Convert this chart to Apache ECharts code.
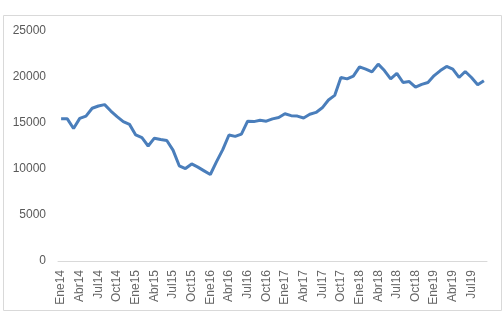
<!DOCTYPE html>
<html>
<head>
<meta charset="utf-8">
<script src="https://cdn.jsdelivr.net/npm/echarts@6/dist/echarts.min.js"></script>
<style>
  html, body { margin: 0; padding: 0; background: #fff; }
  #chart { width: 503px; height: 312px; }
</style>
</head>
<body>
<div id="chart"></div>
<script>
// month names as shown on the axis
var months = ['Ene', 'Feb', 'Mar', 'Abr', 'May', 'Jun', 'Jul', 'Ago', 'Sep', 'Oct', 'Nov', 'Dic'];
var years = ['14', '15', '16', '17', '18', '19'];
var monthCount = 69; // Ene14 .. Sep19

var categories = [];
for (var i = 0; i < monthCount; i++) {
    categories.push(months[i % 12] + years[Math.floor(i / 12)]);
}

var values = [
    15450, 15450, 14400, 15500, 15750, 16600, 16850, 17000, 16300, 15700, 15150, 14850,
    13700, 13400, 12500, 13350, 13200, 13100, 12050, 10350, 10050, 10550, 10200, 9800,
    9400, 10800, 12100, 13700, 13550, 13800, 15200, 15150, 15300, 15200, 15450, 15600,
    16000, 15800, 15750, 15550, 15950, 16150, 16650, 17500, 18000, 19950, 19800, 20100,
    21100, 20850, 20550, 21400, 20700, 19800, 20400, 19400, 19500, 18900, 19200, 19400,
    20150, 20700, 21150, 20850, 19950, 20600, 19950, 19150, 19600
];

var yTicks = [0, 5000, 10000, 15000, 20000, 25000];

var chart = echarts.init(document.getElementById('chart'));

chart.setOption({
    animation: false,
    textStyle: {
        fontFamily: 'Liberation Sans, Arial, sans-serif'
    },
    // chart area border
    graphic: [{
        type: 'rect',
        shape: { x: 3.5, y: 15.5, width: 498, height: 295 },
        style: { fill: 'none', stroke: '#d9d9d9', lineWidth: 1 },
        silent: true
    }],
    grid: {
        left: 58,
        right: 16,
        top: 31,
        bottom: 51
    },
    xAxis: {
        type: 'category',
        boundaryGap: true,
        data: categories,
        axisLine: {
            lineStyle: { color: '#d9d9d9', width: 1 }
        },
        axisTick: { show: false },
        axisLabel: {
            rotate: 90,
            interval: 2,
            margin: 9,
            color: '#666666',
            fontSize: 12
        },
        splitLine: { show: false }
    },
    yAxis: {
        type: 'value',
        min: yTicks[0],
        max: yTicks[yTicks.length - 1],
        interval: 5000,
        axisLine: { show: false },
        axisTick: { show: false },
        axisLabel: {
            color: '#595959',
            fontSize: 12,
            margin: 12,
            formatter: function (v) { return String(v); }
        },
        splitLine: { show: false }
    },
    series: [{
        type: 'line',
        data: values,
        showSymbol: false,
        smooth: false,
        lineStyle: {
            color: '#4a7ebb',
            width: 3
        },
        itemStyle: { color: '#4a7ebb' }
    }]
});
</script>
</body>
</html>
